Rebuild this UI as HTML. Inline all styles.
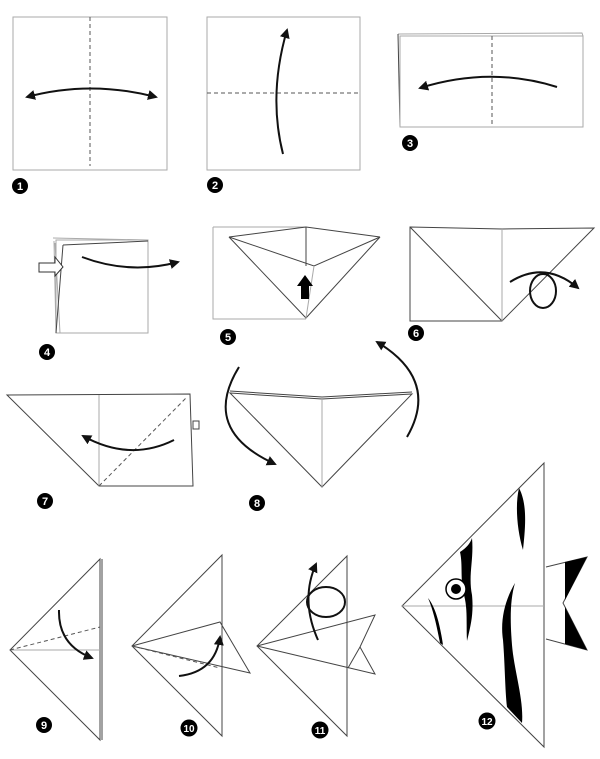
<!DOCTYPE html>
<html><head><meta charset="utf-8"><style>
html,body{margin:0;padding:0;background:#fff}
svg{display:block}
.l{stroke:#444;stroke-width:1;fill:none}
.g{stroke:#aaa;stroke-width:1;fill:none}
.d{stroke:#555;stroke-width:1;fill:none;stroke-dasharray:4 3}
.a{stroke:#111;stroke-width:2;fill:none}
.n{font-family:"Liberation Sans",sans-serif;font-weight:bold;font-size:11px;fill:#fff;text-anchor:middle}
</style></head><body>
<svg width="600" height="759" viewBox="0 0 600 759" xmlns="http://www.w3.org/2000/svg">
<defs><marker id="h" viewBox="0 0 10 10" refX="8" refY="5" markerWidth="5" markerHeight="5" orient="auto-start-reverse"><path d="M0,0 L10,5 L0,10 Z" fill="#111"/></marker></defs>
<!-- step 1 -->
<rect x="13" y="17" width="154" height="153" class="g" stroke="#888"/>
<line x1="90" y1="17" x2="90" y2="166" class="d"/>
<path d="M27,97 Q90,80 156,97" class="a" marker-start="url(#h)" marker-end="url(#h)"/>
<!-- step 2 -->
<rect x="207" y="17" width="153" height="153" class="g" stroke="#888"/>
<line x1="207" y1="93" x2="360" y2="93" class="d"/>
<path d="M283,154 Q268,95 287,30" class="a" marker-end="url(#h)"/>
<!-- step 3 -->
<path d="M398,34 L582,33 L583,36" class="g"/>
<path d="M398,34 L400,127" class="l"/>
<rect x="400" y="36" width="183" height="91" class="g" stroke="#888"/>
<line x1="492" y1="36" x2="492" y2="127" class="d"/>
<path d="M557,87 Q490,66 420,88" class="a" marker-end="url(#h)"/>
<!-- step 4 -->
<path d="M53,238 L148,240 M54,241 L56,333 M55,243 L60,333" class="g"/>
<rect x="56" y="240" width="92" height="93" class="g" stroke="#888"/>
<path d="M63,245 L148,241 M63,245 L56,333" class="l"/>
<path d="M39,263 L55,263 L55,257 L63,267 L55,276 L55,272 L39,272 Z" fill="#fff" stroke="#333"/>
<path d="M82,257 Q130,275 178,262" class="a" marker-end="url(#h)"/>
<!-- step 5 -->
<path d="M213,227 L306,227 M213,227 L213,319 L306,319" class="g"/>
<path d="M229,237 L306,318 L380,237 L314,266 L229,237 Z M229,237 L306,227 L380,237 M306,227 L306,266" class="l"/>
<line x1="314" y1="266" x2="306" y2="318" class="g"/>
<path d="M305,275 L313,286 L309,286 L309,299 L301,299 L301,286 L297,286 Z" fill="#000"/>
<!-- step 6 -->
<path d="M410,227 L502,229 L594,228 L502,321 L410,321 Z" class="l"/>
<line x1="410" y1="227" x2="502" y2="321" class="l"/>
<line x1="502" y1="229" x2="502" y2="321" class="g"/>
<ellipse cx="543" cy="291" rx="13" ry="17" class="a"/>
<path d="M510,282 Q545,260 578,288" class="a" marker-end="url(#h)"/>
<!-- step 7 -->
<path d="M7,395 L190,394 L193,486 L99,486 Z" class="l"/>
<line x1="99" y1="395" x2="99" y2="486" class="g"/>
<line x1="99" y1="486" x2="187" y2="397" class="d"/>
<rect x="193" y="421" width="6" height="8" class="l"/>
<path d="M174,440 Q130,462 83,436" class="a" marker-end="url(#h)"/>
<!-- step 8 -->
<path d="M230,393 L322,399 L412,394 L322,487 Z" class="l"/>
<path d="M230,391 L322,397 L412,392" class="l"/>
<line x1="322" y1="399" x2="322" y2="487" class="g"/>
<path d="M239,367 Q200,430 275,464" class="a" marker-end="url(#h)"/>
<path d="M407,437 Q440,380 377,342" class="a" marker-end="url(#h)"/>
<!-- step 9 -->
<path d="M100,559 L10,650 L100,740 Z" class="l"/>
<line x1="102" y1="559" x2="102" y2="740" class="l"/>
<line x1="10" y1="650" x2="100" y2="650" class="g"/>
<line x1="10" y1="650" x2="100" y2="627" class="d"/>
<path d="M59,610 Q58,645 92,658" class="a" marker-end="url(#h)"/>
<!-- step 10 -->
<path d="M222,555 L132,646 L222,736 Z" class="l"/>
<path d="M132,646 L220,622 L250,673 Z" class="l" fill="#fff"/>
<line x1="132" y1="646" x2="220" y2="668" class="d"/>
<line x1="222" y1="668" x2="222" y2="736" class="l"/>
<path d="M179,676 Q215,672 220,637" class="a" marker-end="url(#h)"/>
<!-- step 11 -->
<path d="M347,556 L257,646 L347,736 Z" class="l"/>
<path d="M257,646 L375,615 L360,647 L375,674 Z" class="l" fill="#fff"/>
<line x1="360" y1="647" x2="348" y2="668" class="l"/>
<ellipse cx="326" cy="602" rx="19" ry="15" class="a"/>
<path d="M318,640 Q300,600 316,564" class="a" marker-end="url(#h)"/>
<!-- step 12 -->
<path d="M544,463 L402,606 L544,747 Z" class="l"/>
<line x1="402" y1="606" x2="544" y2="606" class="g"/>
<path d="M546,567 L587,557 L563,603 L587,650 L546,639" class="l"/>
<path d="M565,562 L587,557 L565,600 Z M565,607 L587,650 L565,644 Z" fill="#000"/>
<path d="M519,488 C528,505 525,530 523,550 C517,530 515,505 519,488 Z" fill="#000"/>
<path d="M460,552 C466,548 470,544 472,538 C474,560 468,575 472,595 C474,615 470,628 467,641 C466,625 468,610 464,595 C460,580 463,565 460,552 Z" fill="#000"/>
<path d="M428,598 C436,608 440,625 443,645 L440,643 C437,628 434,612 428,598 Z" fill="#000"/>
<path d="M515,583 C505,600 500,620 503,640 C505,665 505,690 507,707 L522,723 C524,700 514,670 512,645 C510,620 510,600 515,583 Z" fill="#000"/>
<circle cx="456" cy="589" r="10" fill="#fff" stroke="#000" stroke-width="1.5"/>
<circle cx="456" cy="589" r="5" fill="#000"/>
<!-- labels -->
<g>
<circle cx="20" cy="186" r="8"/><text x="20" y="190" class="n">1</text>
<circle cx="215" cy="185" r="8"/><text x="215" y="189" class="n">2</text>
<circle cx="410" cy="143" r="8"/><text x="410" y="147" class="n">3</text>
<circle cx="47" cy="352" r="8"/><text x="47" y="356" class="n">4</text>
<circle cx="228" cy="337" r="8"/><text x="228" y="341" class="n">5</text>
<circle cx="416" cy="333" r="8"/><text x="416" y="337" class="n">6</text>
<circle cx="45" cy="501" r="8"/><text x="45" y="505" class="n">7</text>
<circle cx="257" cy="503" r="8"/><text x="257" y="507" class="n">8</text>
<circle cx="44" cy="725" r="8"/><text x="44" y="729" class="n">9</text>
<circle cx="189" cy="728" r="8.5"/><text x="189" y="732" class="n" style="font-size:10px">10</text>
<circle cx="320" cy="730" r="8.5"/><text x="320" y="734" class="n" style="font-size:10px">11</text>
<circle cx="487" cy="721" r="8.5"/><text x="487" y="725" class="n" style="font-size:10px">12</text>
</g>
</svg>
</body></html>
